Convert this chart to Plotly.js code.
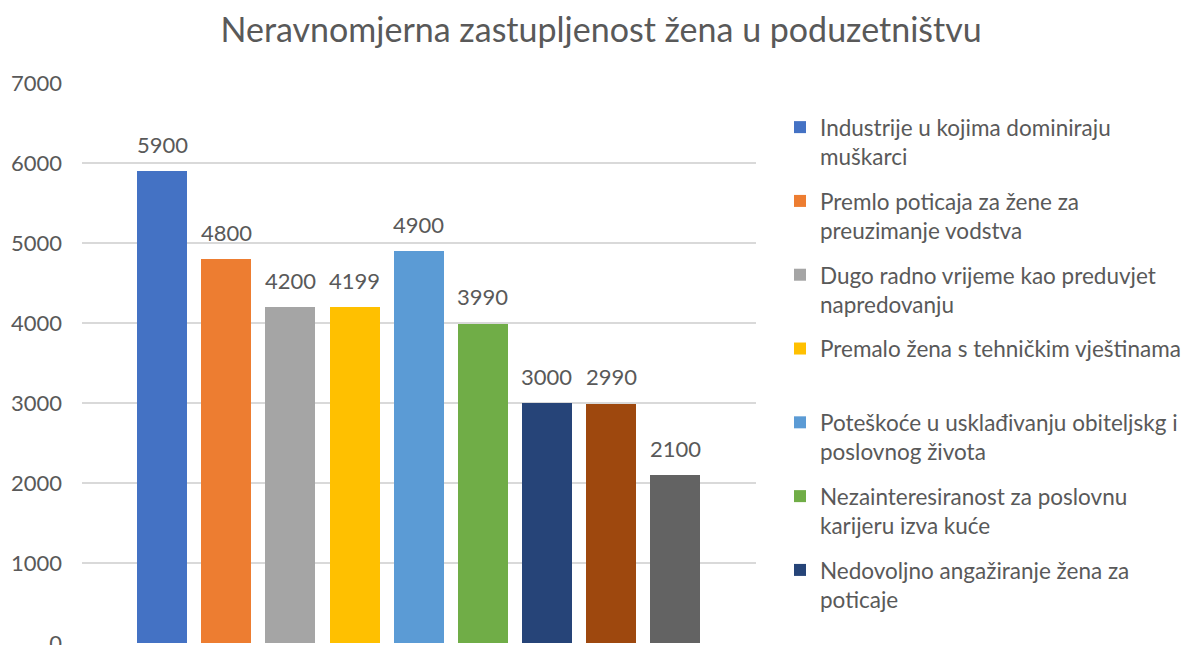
<!DOCTYPE html>
<html>
<head>
<meta charset="utf-8">
<script src="https://cdn.plot.ly/plotly-3.0.1.min.js"></script>
<style>html,body{margin:0;padding:0;background:#fff;}#chart{width:1181px;height:645px;}</style>
</head>
<body>
<div id="chart"></div>
<script>
const categories = [
  "Industrije u kojima dominiraju<br>muškarci",
  "Premlo poticaja za žene za<br>preuzimanje vodstva",
  "Dugo radno vrijeme kao preduvjet<br>napredovanju",
  "Premalo žena s tehničkim vještinama<br> ",
  "Poteškoće u usklađivanju obiteljskg i<br>poslovnog života",
  "Nezainteresiranost za poslovnu<br>karijeru izva kuće",
  "Nedovoljno angažiranje žena za<br>poticaje",
  "Nedovoljna podrška obitelji",
  "Ostalo"
];
const values = [5900, 4800, 4200, 4199, 4900, 3990, 3000, 2990, 2100];
const colors = ["#4472C4", "#ED7D31", "#A5A5A5", "#FFC000", "#5B9BD5", "#70AD47", "#264478", "#9E480E", "#636363"];
const showInLegend = [true, true, true, true, true, true, true, false, false];
const yTicks = [0, 1000, 2000, 3000, 4000, 5000, 6000, 7000];
const titleText = "Neravnomjerna zastupljenost žena u poduzetništvu";

const FONT = "Lato, 'Noto Sans', sans-serif";
const TXT = "#595959";

const xKeys = categories.map((c, i) => "c" + i);

const traces = categories.map((c, i) => ({
  type: "bar",
  name: c,
  x: [xKeys[i]],
  y: [values[i]],
  marker: {color: colors[i]},
  showlegend: showInLegend[i],
  legendgroup: "g" + i,
  hoverinfo: "y"
}));

const annotations = values.map((v, i) => ({
  x: xKeys[i], y: v, xref: "x", yref: "y",
  text: String(v), showarrow: false,
  yanchor: "middle", yshift: 27,
  font: {family: FONT, size: 22, color: TXT}
}));

const layout = {
  width: 1181, height: 645,
  margin: {l: 82, r: 425, t: 83, b: 2},
  paper_bgcolor: "#fff", plot_bgcolor: "#fff",
  barmode: "stack",
  bargap: 0.219,
  title: {
    text: titleText, x: 0.509, xanchor: "center", y: 1 - 30/645, yanchor: "middle",
    font: {family: FONT, size: 34, color: TXT}
  },
  xaxis: {
    type: "category", range: [-1.25, 9.26], showticklabels: false,
    showgrid: false, zeroline: false, showline: false, fixedrange: true
  },
  yaxis: {
    range: [0, 7000], tickvals: yTicks, ticktext: yTicks.map(String),
    gridcolor: "#D9D9D9", gridwidth: 1.3, zeroline: false, showline: false,
    ticks: "", ticklabelstandoff: 19, ticklabeloverflow: "allow",
    tickfont: {family: FONT, size: 22, color: TXT}
  },
  showlegend: true,
  legend: {
    xref: "container", yref: "container",
    x: 780/1181, y: 1 - 106/645, xanchor: "left", yanchor: "top",
    font: {family: FONT, size: 22.5, color: TXT},
    valign: "top", tracegroupgap: 12.3, traceorder: "grouped",
    itemwidth: 30, bgcolor: "rgba(0,0,0,0)", maxheight: 640
  },
  annotations: annotations
};

Plotly.newPlot("chart", traces, layout, {displayModeBar: false, staticPlot: true});
</script>
</body>
</html>
